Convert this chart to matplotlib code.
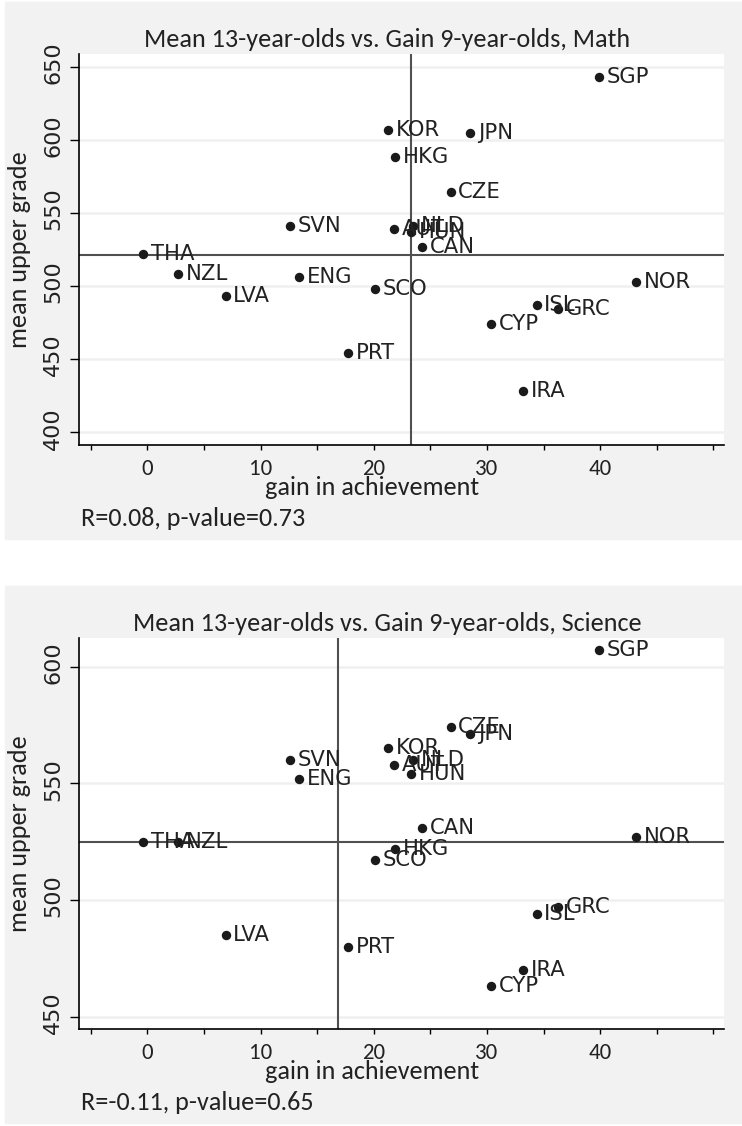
import matplotlib
matplotlib.use("Agg")
import matplotlib.pyplot as plt
import matplotlib.transforms as mtransforms
from matplotlib import font_manager
from matplotlib.patches import Rectangle
import numpy as np

# country codes, same order in every list
countries = ["SGP", "KOR", "JPN", "HKG", "CZE", "SVN", "AUT", "NLD", "HUN", "CAN", "THA",
             "NZL", "ENG", "SCO", "NOR", "LVA", "ISL", "GRC", "CYP", "PRT", "IRA"]
gain = [39.9, 21.3, 28.5, 21.9, 26.8, 12.6, 21.8, 23.5, 23.3, 24.3, -0.4,
        2.7, 13.4, 20.1, 43.2, 6.9, 34.4, 36.3, 30.4, 17.7, 33.2]
math_mean = [643, 607, 605, 588, 564, 541, 539, 541, 537, 527, 522,
             508, 506, 498, 503, 493, 487, 484, 474, 454, 428]
sci_mean = [607, 565, 571, 522, 574, 560, 558, 560, 554, 531, 525,
            525, 552, 517, 527, 485, 494, 497, 463, 480, 470]

titles = ["Mean 13-year-olds vs. Gain 9-year-olds, Math",
          "Mean 13-year-olds vs. Gain 9-year-olds, Science"]
notes = ["R=0.08, p-value=0.73", "R=-0.11, p-value=0.65"]
hlines = [521, 525]
vlines = [23.3, 16.8]
yticks = [[400, 450, 500, 550, 600, 650], [450, 500, 550, 600]]
ylims = [(391.3, 658.5), (444.7, 612.2)]
xticks = [-5, 0, 5, 10, 15, 20, 25, 30, 35, 40, 45, 50]
xticklabels = ["", "0", "", "10", "", "20", "", "30", "", "40", "", ""]


def pick_font(names):
    for n in names:
        try:
            font_manager.findfont(n, fallback_to_default=False)
            return n
        except Exception:
            pass
    return "DejaVu Sans"


narrow = pick_font(["Carlito", "Lato"])   # stand in for Calibri
tsize = 18.8
W, H = 742, 1126

fig = plt.figure(figsize=(W / 100, H / 100), dpi=100)


def fx(px):
    return px / W


def fy(py):
    return 1 - py / H


def panel(top, means, i):
    # grey graph region, behind the axes
    fig.patches.append(Rectangle((fx(5), fy(top + 537)), fx(737), 537 / H,
                                 transform=fig.transFigure, color="#f2f2f2", zorder=-5))
    ax_top = top + 52.3
    ax_bot = top + 443
    ax = fig.add_axes([fx(79), fy(ax_bot), fx(645), (ax_bot - ax_top) / H])
    ax.set_zorder(1)
    ax.set_facecolor("white")
    for s in ["top", "right"]:
        ax.spines[s].set_visible(False)
    ax.spines["left"].set_linewidth(1.2)
    ax.spines["bottom"].set_linewidth(1.2)

    ax.set_xlim(-6.05, 50.95)
    ax.set_ylim(*ylims[i])
    ax.set_xticks(xticks, xticklabels)
    ax.set_yticks(yticks[i])
    ax.tick_params(axis="x", direction="out", length=3.5, width=1, pad=6.5,
                   labelsize=16.5)
    ax.tick_params(axis="y", direction="out", length=6.5, width=1, pad=5,
                   labelsize=16, labelrotation=90)
    for lab in ax.get_xticklabels():
        lab.set_family(narrow)
        lab.set_color("#222222")
    shift = mtransforms.ScaledTranslation(0, 4 / 100, fig.dpi_scale_trans)
    for lab in ax.get_yticklabels():
        lab.set_va("center")
        lab.set_color("#222222")
        lab.set_transform(lab.get_transform() + shift)
    ax.grid(axis="y", color="#f0f0f0", lw=1.8)
    ax.set_axisbelow(True)

    # reference lines
    ax.axhline(hlines[i], color="#505050", lw=1.5, zorder=2)
    ax.axvline(vlines[i], color="#505050", lw=1.5, zorder=2)

    ax.scatter(gain, means, s=46, color="#1a1a1a", zorder=3, linewidths=0)
    for c, x, y in zip(countries, gain, means):
        ax.annotate(c, (x, y), xytext=(5.5, 0), textcoords="offset points",
                    va="center", ha="left", fontsize=15.2, color="#222222", zorder=4)

    fig.text(fx(387), fy(top + 45), titles[i], ha="center", va="baseline",
             fontsize=tsize, family=narrow, color="#222222")
    fig.text(fx(372), fy(top + 493), "gain in achievement", ha="center", va="baseline",
             fontsize=tsize, family=narrow, color="#222222")
    fig.text(fx(81), fy(top + 524.5), notes[i], ha="left", va="baseline",
             fontsize=tsize, family=narrow, color="#222222")
    fig.text(fx(20), fy((ax_top + ax_bot) / 2), "mean upper grade", ha="center",
             va="center", rotation=90, fontsize=tsize, family=narrow, color="#222222")
    return ax


panel(2, math_mean, 0)
panel(586, sci_mean, 1)

fig.savefig("out.png", dpi=100)
